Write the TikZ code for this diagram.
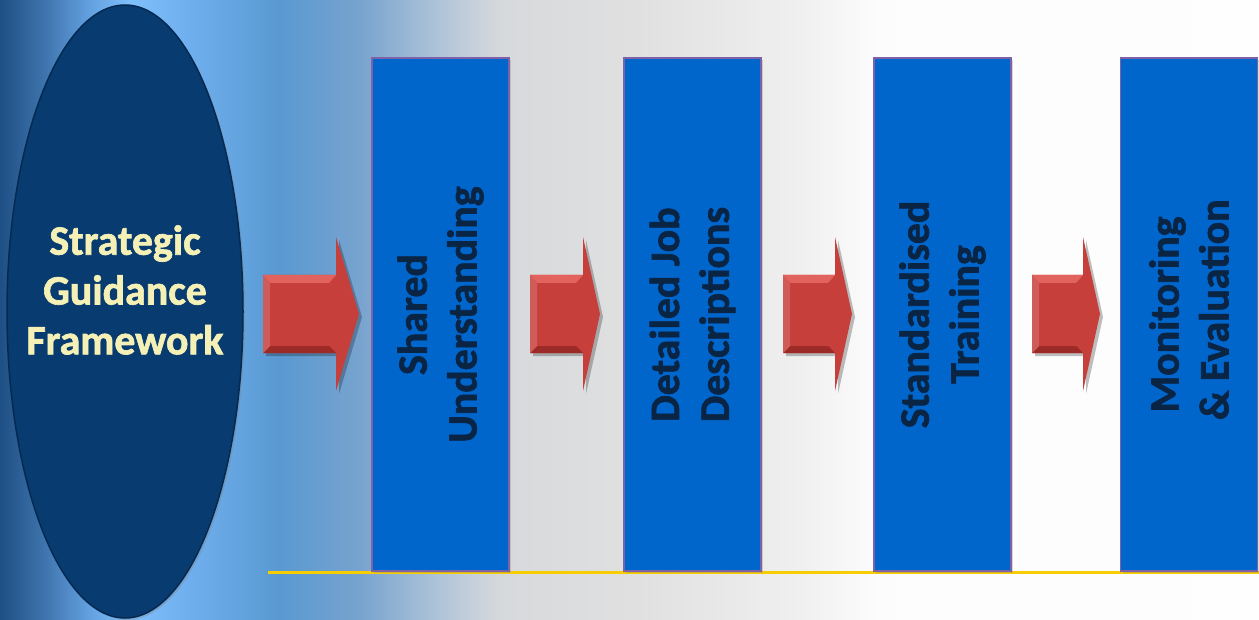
\documentclass[tikz,border=0pt]{standalone}
\usepackage{fontspec}
\setmainfont{Carlito}[BoldFeatures={FakeBold=1.6}]
\usetikzlibrary{shapes.geometric,shadows}

\definecolor{navy}{HTML}{083B70}
\definecolor{navyedge}{HTML}{052A52}
\definecolor{cream}{HTML}{F5F1B6}
\definecolor{boxblue}{HTML}{0066CC}
\definecolor{boxedge}{HTML}{7E62A8}
\definecolor{boxtext}{HTML}{0A2444}
\definecolor{arrowred}{HTML}{C63F3B}
\definecolor{arrowlight}{HTML}{E2635E}
\definecolor{arrowdark}{HTML}{9C2B28}
\definecolor{goldline}{HTML}{F7CC00}

\pgfdeclarehorizontalshading{bgshade}{620bp}{%
rgb(0bp)=(0.12,0.31,0.52);
rgb(40bp)=(0.23,0.44,0.66);
rgb(90bp)=(0.39,0.63,0.88);
rgb(130bp)=(0.50,0.75,0.98);
rgb(185bp)=(0.44,0.69,0.94);
rgb(280bp)=(0.35,0.60,0.82);
rgb(360bp)=(0.47,0.64,0.81);
rgb(440bp)=(0.69,0.77,0.85);
rgb(500bp)=(0.84,0.85,0.86);
rgb(640bp)=(0.88,0.88,0.88);
rgb(800bp)=(0.94,0.94,0.94);
rgb(880bp)=(0.99,0.99,0.99);
rgb(1259bp)=(0.995,0.995,0.995)}

\tikzset{
  bigfont/.style={font=\fontsize{42}{50}\selectfont\bfseries},
  stagebox/.style={draw=boxedge, fill=boxblue, line width=1.5bp, inner sep=0,
    rotate=90, minimum width=513bp, minimum height=137bp,
    text=boxtext, align=center, bigfont},
  boxshadow/.style={drop shadow={opacity=0.3, shadow xshift=2bp, shadow yshift=-2bp}},
  framework/.style={ellipse, fill=navy, draw=navyedge, line width=1.5bp, inner sep=0,
    minimum width=236bp, minimum height=613bp},
  redarrow/.style={fill=arrowred},
  arrowshadow/.style={fill=black, opacity=0.25},
}

% #1 left of body, #2 head base, #3 tip
\newcommand{\blockarrow}[3]{%
  \fill[arrowshadow] (#1+3,278) -- (#2+3,278) -- (#2+3,240) -- (#3+3,317) -- (#2+3,394) -- (#2+3,356) -- (#1+3,356) -- cycle;
  \fill[redarrow] (#1,275) -- (#2,275) -- (#2,237) -- (#3,314) -- (#2,391) -- (#2,353) -- (#1,353) -- cycle;
  \fill[arrowlight] (#1,275) -- (#2,275) -- (#2-7,283) -- (#1+7,283) -- cycle;
  \fill[arrowdark] (#1,353) -- (#2,353) -- (#2-7,346) -- (#1+7,346) -- cycle;
  \fill[arrowred!85!white] (#1,275) -- (#1+7,283) -- (#1+7,346) -- (#1,353) -- cycle;
}

\begin{document}
\begin{tikzpicture}[x=1bp, y=-1bp]
\useasboundingbox (0,0) rectangle (1259,620);
\node[inner sep=0, outer sep=0, anchor=north west] (bg) at (0,0) {\pgfuseshading{bgshade}};

% framework ellipse
\node[framework, drop shadow={opacity=0.35, shadow xshift=2bp, shadow yshift=-2bp}] (sgf) at (125,311.5) {};
\node[bigfont, text=cream, align=center] (sgftext) at (125,290) {Strategic\\Guidance\\Framework};

% baseline
\coordinate (lineL) at (268,572);
\coordinate (lineR) at (1259,572);
\draw[goldline, line width=3bp] (lineL) -- (lineR);

% arrows
\blockarrow{263}{336}{359}
\blockarrow{530}{583}{600}
\blockarrow{783}{835}{852}
\blockarrow{1032}{1083}{1100}

% stage boxes
\node[stagebox, boxshadow] (b1) at (440.5,314.5) {Shared\\Understanding};
\node[stagebox, boxshadow] (b2) at (692.5,314.5) {Detailed Job\\Descriptions};
\node[stagebox, boxshadow] (b3) at (942.5,314.5) {Standardised\\Training};
\node[stagebox, boxshadow] (b4) at (1189,314.5) {Monitoring\\\ \& Evaluation};
\end{tikzpicture}
\end{document}
